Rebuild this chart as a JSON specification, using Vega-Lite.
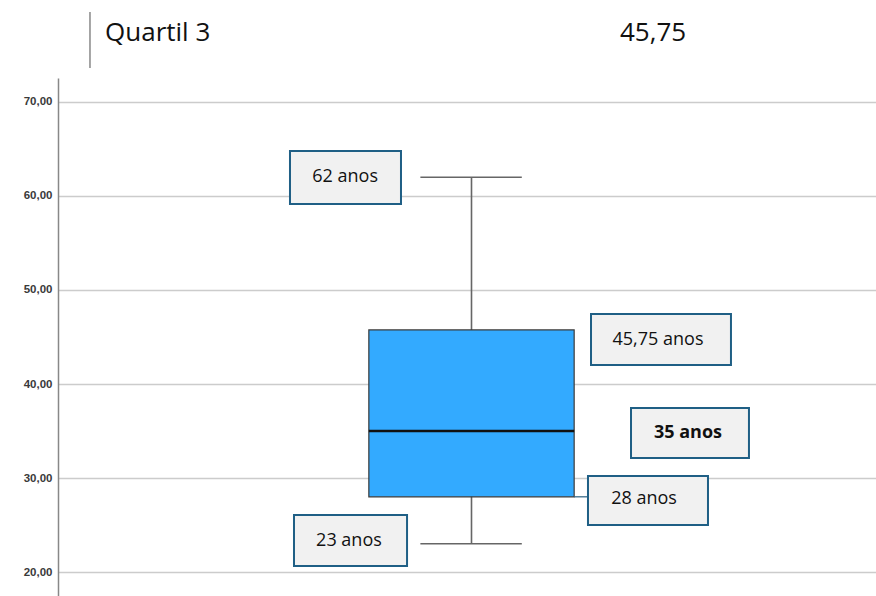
{
  "$schema": "https://vega.github.io/schema/vega-lite/v6.json",
  "width": 818,
  "height": 518,
  "autosize": "none",
  "padding": {"left": 58, "top": 78, "right": 0, "bottom": 0},
  "background": "white",
  "config": {"view": {"stroke": null}},
  "datasets": {
    "estatisticas": [{"minimo": 23, "q1": 28, "mediana": 35, "q3": 45.75, "maximo": 62}],
    "cabecalho": [{"rotulo": "Quartil 3", "valor": "45,75"}],
    "anotacoes": [
      {"rotulo": "62 anos", "valor": 62},
      {"rotulo": "45,75 anos", "valor": 45.75},
      {"rotulo": "35 anos", "valor": 35},
      {"rotulo": "28 anos", "valor": 28},
      {"rotulo": "23 anos", "valor": 23}
    ]
  },
  "layer": [
    {
      "data": {"name": "estatisticas"},
      "mark": {"type": "rule", "color": "#666666", "strokeWidth": 1.6},
      "encoding": {
        "x": {"datum": 50.55, "type": "quantitative", "scale": {"domain": [0, 100], "nice": false, "zero": false}, "axis": null},
        "y": {"field": "minimo", "type": "quantitative", "scale": {"domain": [17.45, 72.55], "nice": false, "zero": false},
          "axis": {
            "title": null, "values": [20, 30, 40, 50, 60, 70],
            "labelExpr": "replace(format(datum.value, '.2f'), '.', ',')",
            "grid": true, "gridColor": "#cccccc", "gridWidth": 1.5,
            "domain": true, "domainColor": "#888888", "domainWidth": 1.5,
            "ticks": false, "labelPadding": 6, "labelFont": "Liberation Sans",
            "labelFontSize": 11.5, "labelColor": "#3a3a3a", "labelFontWeight": "bold"
          }},
        "y2": {"field": "maximo"}
      }
    },
    {
      "data": {"name": "estatisticas"},
      "mark": {"type": "rule", "color": "#666666", "strokeWidth": 1.6},
      "encoding": {
        "x": {"datum": 44.3, "type": "quantitative"},
        "x2": {"datum": 56.7},
        "y": {"field": "maximo", "type": "quantitative"}
      }
    },
    {
      "data": {"name": "estatisticas"},
      "mark": {"type": "rule", "color": "#666666", "strokeWidth": 1.6},
      "encoding": {
        "x": {"datum": 44.3, "type": "quantitative"},
        "x2": {"datum": 56.7},
        "y": {"field": "minimo", "type": "quantitative"}
      }
    },
    {
      "data": {"name": "estatisticas"},
      "mark": {"type": "rect", "fill": "#33aaff", "stroke": "#3a3a3a", "strokeWidth": 1.2},
      "encoding": {
        "x": {"datum": 38.0, "type": "quantitative"},
        "x2": {"datum": 63.1},
        "y": {"field": "q1", "type": "quantitative"},
        "y2": {"field": "q3"}
      }
    },
    {
      "data": {"name": "estatisticas"},
      "mark": {"type": "rule", "color": "#111111", "strokeWidth": 2.5},
      "encoding": {
        "x": {"datum": 38.0, "type": "quantitative"},
        "x2": {"datum": 63.1},
        "y": {"field": "mediana", "type": "quantitative"}
      }
    },
    {
      "data": {"name": "estatisticas"},
      "mark": {"type": "rule", "color": "#2b5f7f", "strokeWidth": 1.2},
      "encoding": {
        "x": {"datum": 63.1, "type": "quantitative"},
        "x2": {"datum": 64.8},
        "y": {"field": "q1", "type": "quantitative"}
      }
    },
    {
      "data": {"name": "anotacoes"},
      "transform": [{"filter": "datum.valor == 62"}],
      "layer": [
        {"mark": {"type": "rect", "fill": "#f1f1f1", "stroke": "#1f5f85", "strokeWidth": 2},
         "encoding": {"x": {"datum": 28.36, "type": "quantitative"}, "x2": {"datum": 41.93}, "y": {"datum": 64.79, "type": "quantitative"}, "y2": {"datum": 59.15}}},
        {"mark": {"type": "text", "font": "Open Sans", "fontSize": 18, "color": "#111111", "align": "center", "baseline": "middle"},
         "encoding": {"x": {"datum": 35.1, "type": "quantitative"}, "y": {"datum": 62.0, "type": "quantitative"}, "text": {"field": "rotulo"}}}
      ]
    },
    {
      "data": {"name": "anotacoes"},
      "transform": [{"filter": "datum.valor == 45.75"}],
      "layer": [
        {"mark": {"type": "rect", "fill": "#f1f1f1", "stroke": "#1f5f85", "strokeWidth": 2},
         "encoding": {"x": {"datum": 65.16, "type": "quantitative"}, "x2": {"datum": 82.27}, "y": {"datum": 47.45, "type": "quantitative"}, "y2": {"datum": 42.02}}},
        {"mark": {"type": "text", "font": "Open Sans", "fontSize": 18, "color": "#111111", "align": "center", "baseline": "middle"},
         "encoding": {"x": {"datum": 73.35, "type": "quantitative"}, "y": {"datum": 44.68, "type": "quantitative"}, "text": {"field": "rotulo"}}}
      ]
    },
    {
      "data": {"name": "anotacoes"},
      "transform": [{"filter": "datum.valor == 35"}],
      "layer": [
        {"mark": {"type": "rect", "fill": "#f1f1f1", "stroke": "#1f5f85", "strokeWidth": 2},
         "encoding": {"x": {"datum": 70.05, "type": "quantitative"}, "x2": {"datum": 84.47}, "y": {"datum": 37.45, "type": "quantitative"}, "y2": {"datum": 32.13}}},
        {"mark": {"type": "text", "font": "Open Sans", "fontSize": 18, "fontWeight": "bold", "color": "#111111", "align": "center", "baseline": "middle"},
         "encoding": {"x": {"datum": 77.02, "type": "quantitative"}, "y": {"datum": 34.79, "type": "quantitative"}, "text": {"field": "rotulo"}}}
      ]
    },
    {
      "data": {"name": "anotacoes"},
      "transform": [{"filter": "datum.valor == 28"}],
      "layer": [
        {"mark": {"type": "rect", "fill": "#f1f1f1", "stroke": "#1f5f85", "strokeWidth": 2},
         "encoding": {"x": {"datum": 64.79, "type": "quantitative"}, "x2": {"datum": 79.46}, "y": {"datum": 30.21, "type": "quantitative"}, "y2": {"datum": 25.0}}},
        {"mark": {"type": "text", "font": "Open Sans", "fontSize": 18, "color": "#111111", "align": "center", "baseline": "middle"},
         "encoding": {"x": {"datum": 71.64, "type": "quantitative"}, "y": {"datum": 27.77, "type": "quantitative"}, "text": {"field": "rotulo"}}}
      ]
    },
    {
      "data": {"name": "anotacoes"},
      "transform": [{"filter": "datum.valor == 23"}],
      "layer": [
        {"mark": {"type": "rect", "fill": "#f1f1f1", "stroke": "#1f5f85", "strokeWidth": 2},
         "encoding": {"x": {"datum": 28.85, "type": "quantitative"}, "x2": {"datum": 42.67}, "y": {"datum": 26.06, "type": "quantitative"}, "y2": {"datum": 20.64}}},
        {"mark": {"type": "text", "font": "Open Sans", "fontSize": 18, "color": "#111111", "align": "center", "baseline": "middle"},
         "encoding": {"x": {"datum": 35.57, "type": "quantitative"}, "y": {"datum": 23.3, "type": "quantitative"}, "text": {"field": "rotulo"}}}
      ]
    },
    {
      "data": {"name": "cabecalho"},
      "layer": [
        {"mark": {"type": "rule", "color": "#888888", "strokeWidth": 1.5},
         "encoding": {"x": {"datum": 3.91, "type": "quantitative"}, "y": {"datum": 79.57, "type": "quantitative"}, "y2": {"datum": 73.62}}},
        {"mark": {"type": "text", "font": "Open Sans", "fontSize": 26, "color": "#111111", "align": "left", "baseline": "middle"},
         "encoding": {"x": {"datum": 5.75, "type": "quantitative"}, "y": {"datum": 77.3, "type": "quantitative"}, "text": {"field": "rotulo"}}},
        {"mark": {"type": "text", "font": "Open Sans", "fontSize": 26, "color": "#111111", "align": "left", "baseline": "middle"},
         "encoding": {"x": {"datum": 68.7, "type": "quantitative"}, "y": {"datum": 77.3, "type": "quantitative"}, "text": {"field": "valor"}}}
      ]
    }
  ]
}
